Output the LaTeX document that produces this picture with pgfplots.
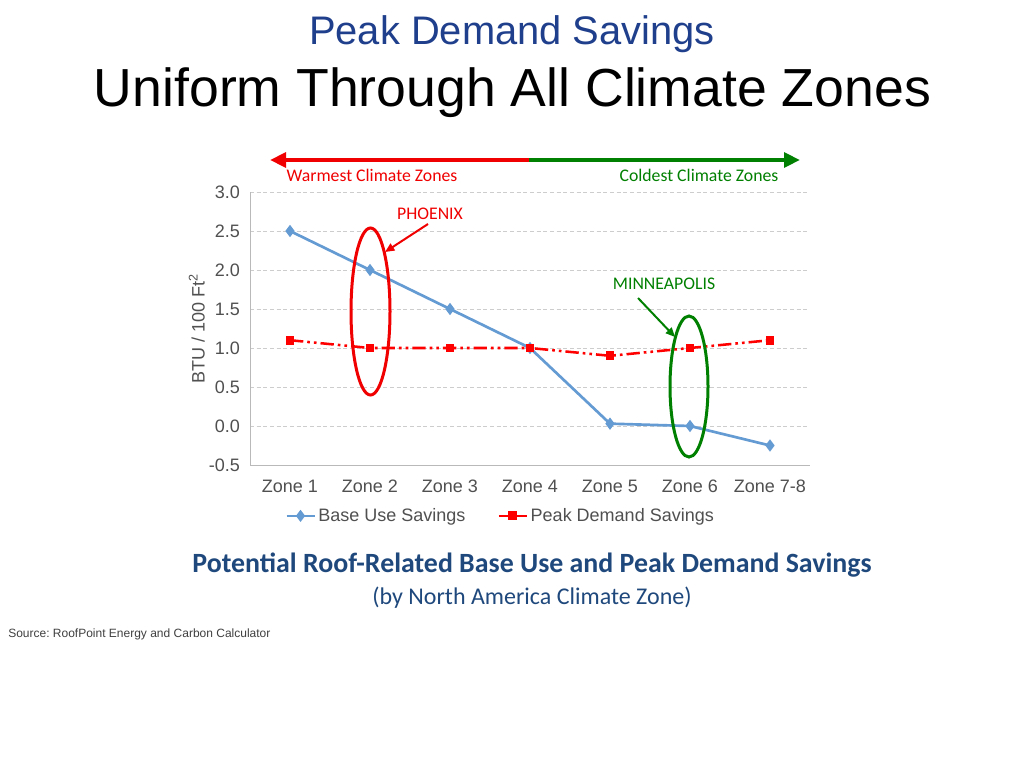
\documentclass[border=0pt]{standalone}
\usepackage{pgfplots}
\pgfplotsset{compat=1.18}
\usetikzlibrary{arrows.meta}
\usepackage{fontspec}
\setmainfont{Liberation Sans}
\newfontfamily\calibri{Carlito}
\definecolor{baseblue}{RGB}{100,155,210}
\definecolor{titleblue}{RGB}{31,63,140}
\definecolor{capblue}{RGB}{31,73,125}
\definecolor{dkgreen}{RGB}{0,128,0}
\definecolor{ticktext}{RGB}{80,80,80}
\definecolor{gridgray}{RGB}{205,205,205}
\definecolor{axisgray}{RGB}{185,185,185}
\definecolor{annred}{RGB}{240,0,0}
\frenchspacing

\pgfplotstableread{
x base peak
1 2.5 1.1
2 2.0 1.0
3 1.5 1.0
4 1.0 1.0
5 0.03 0.9
6 0.0 1.0
7 -0.25 1.1
}\datatable

\begin{document}
\begin{tikzpicture}
\path[use as bounding box, fill=white] (0pt,0pt) rectangle (768pt,-576pt);
\begin{axis}[
  at={(187.5pt,-144pt)}, anchor=north west,
  width=420pt, height=204.75pt, scale only axis,
  xmin=0.5, xmax=7.5, ymin=-0.5, ymax=3,
  xtick={1,2,3,4,5,6,7},
  xticklabels={Zone 1,Zone 2,Zone 3,Zone 4,Zone 5,Zone 6,Zone 7-8},
  ytick={-0.5,0,0.5,1,1.5,2,2.5,3},
  yticklabels={-0.5,0.0,0.5,1.0,1.5,2.0,2.5,3.0},
  major tick length=0pt,
  axis x line*=bottom, axis y line*=left,
  axis line style={axisgray, line width=0.75pt},
  ymajorgrids, grid style={gridgray, line width=0.75pt, dash pattern=on 3pt off 2pt},
  tick label style={font=\fontsize{13.5}{16}\selectfont, text=ticktext},
  yticklabel style={xshift=-4pt},
  xticklabel style={yshift=-7.5pt},
  ylabel={BTU / 100 Ft\textsuperscript{2}},
  ylabel style={font=\fontsize{13.5}{16}\selectfont, text=ticktext, at={(axis description cs:-0.095,0.5)}, anchor=center},
  legend style={at={(0.448,-0.148)}, anchor=north, draw=none, fill=none,
    font=\fontsize{13.5}{16}\selectfont, text=ticktext, legend columns=2,
    /tikz/every even column/.append style={column sep=22pt},
    inner sep=0pt},
  legend image code/.code={\draw[mark repeat=2,mark phase=2,#1] plot coordinates {(0pt,0pt) (10.5pt,0pt) (21pt,0pt)};},
  clip=false,
]
\addlegendimage{baseblue, line width=1.9pt, mark=diamond*, mark size=3pt, mark options={solid}}
\addlegendentry{Base Use Savings}
\addlegendimage{red, line width=1.9pt, mark=square*, mark size=2.5pt, mark options={solid}}
\addlegendentry{Peak Demand Savings}
\addplot[forget plot, baseblue, line width=2pt, mark=diamond*, mark size=3pt] table[x=x, y=base] {\datatable};
\addplot[forget plot, red, line width=1.9pt, dash pattern=on 10pt off 3pt on 2pt off 3pt on 2pt off 3pt, mark=square*, mark size=2.3pt, mark options={solid}] table[x=x, y=peak] {\datatable};
\end{axis}
\begin{scope}[x=0.75pt, y=-0.75pt]
  % titles
  \node[titleblue, font=\fontsize{29.9}{34}\selectfont, anchor=base] at (512,44) {Peak Demand Savings};
  \node[black, font=\fontsize{40.2}{48}\selectfont, anchor=base] at (512.5,106) {Uniform Through All Climate Zones};
  % top arrow
  \draw[annred, line width=3pt, -{Triangle[length=12pt,width=11pt]}] (531,160) -- (270,160);
  \draw[dkgreen, line width=3pt, -{Triangle[length=12pt,width=11pt]}] (529,160) -- (800,160);
  \node[annred, font=\calibri\fontsize{13.3}{16}\selectfont] at (372,175) {Warmest Climate Zones};
  \node[dkgreen, font=\calibri\fontsize{13.3}{16}\selectfont] at (699,175) {Coldest Climate Zones};
  % annotations
  \draw[annred, line width=2.25pt] (370.5,311.5) ellipse [x radius=19.5, y radius=83.5];
  \draw[dkgreen, line width=2.25pt] (689,386.5) ellipse [x radius=19, y radius=70.5];
  \node[annred, font=\calibri\fontsize{13.3}{16}\selectfont] at (430,214) {PHOENIX};
  \node[dkgreen, font=\calibri\fontsize{13.3}{16}\selectfont] at (664,284) {MINNEAPOLIS};
  \draw[annred, line width=1.5pt, -{Triangle[length=7pt,width=6pt]}] (428,224) -- (385,252);
  \draw[dkgreen, line width=1.5pt, -{Triangle[length=7pt,width=6pt]}] (638,298) -- (675,337);
  % captions
  \node[capblue, font=\calibri\bfseries\fontsize{20.9}{25}\selectfont] at (532,565) {Potential Roof-Related Base Use and Peak Demand Savings};
  \node[capblue, font=\calibri\fontsize{18}{22}\selectfont] at (532,598) {(by North America Climate Zone)};
  \node[ticktext!80!black, font=\fontsize{9}{11}\selectfont, anchor=base west, inner sep=0pt] at (8,637) {Source: RoofPoint Energy and Carbon Calculator};
\end{scope}
\end{tikzpicture}
\end{document}
